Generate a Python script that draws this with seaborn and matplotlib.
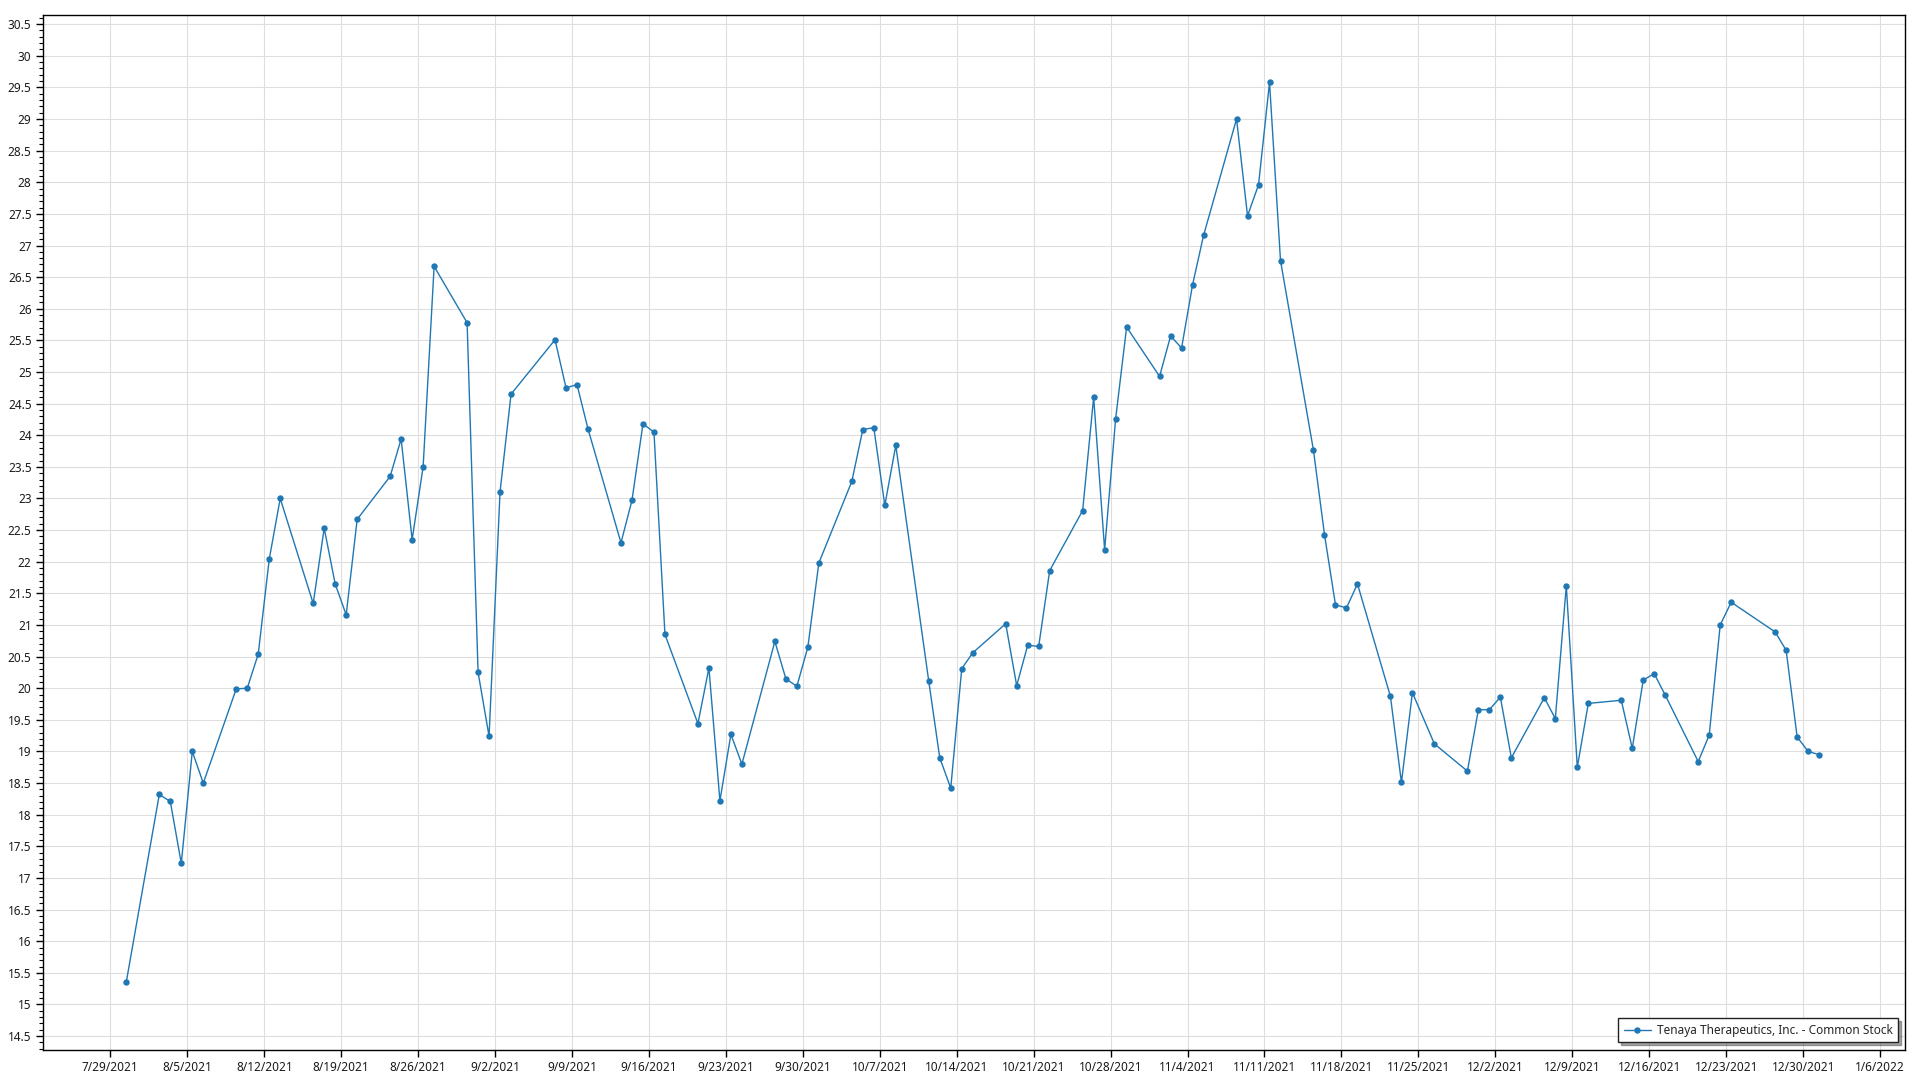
import numpy as np
import pandas as pd
import matplotlib
matplotlib.use("Agg")
import matplotlib.pyplot as plt
import matplotlib.dates as mdates
from matplotlib.ticker import MultipleLocator, FuncFormatter, FixedLocator
import seaborn as sns

# ---------------- data ----------------
series_name = "Tenaya Therapeutics, Inc. - Common Stock"

dates = [
    "2021-07-30",
    "2021-08-02", "2021-08-03", "2021-08-04", "2021-08-05", "2021-08-06",
    "2021-08-09", "2021-08-10", "2021-08-11", "2021-08-12", "2021-08-13",
    "2021-08-16", "2021-08-17", "2021-08-18", "2021-08-19", "2021-08-20",
    "2021-08-23", "2021-08-24", "2021-08-25", "2021-08-26", "2021-08-27",
    "2021-08-30", "2021-08-31", "2021-09-01", "2021-09-02", "2021-09-03",
    "2021-09-07", "2021-09-08", "2021-09-09", "2021-09-10",
    "2021-09-13", "2021-09-14", "2021-09-15", "2021-09-16", "2021-09-17",
    "2021-09-20", "2021-09-21", "2021-09-22", "2021-09-23", "2021-09-24",
    "2021-09-27", "2021-09-28", "2021-09-29", "2021-09-30", "2021-10-01",
    "2021-10-04", "2021-10-05", "2021-10-06", "2021-10-07", "2021-10-08",
    "2021-10-11", "2021-10-12", "2021-10-13", "2021-10-14", "2021-10-15",
    "2021-10-18", "2021-10-19", "2021-10-20", "2021-10-21", "2021-10-22",
    "2021-10-25", "2021-10-26", "2021-10-27", "2021-10-28", "2021-10-29",
    "2021-11-01", "2021-11-02", "2021-11-03", "2021-11-04", "2021-11-05",
    "2021-11-08", "2021-11-09", "2021-11-10", "2021-11-11", "2021-11-12",
    "2021-11-15", "2021-11-16", "2021-11-17", "2021-11-18", "2021-11-19",
    "2021-11-22", "2021-11-23", "2021-11-24", "2021-11-26",
    "2021-11-29", "2021-11-30", "2021-12-01", "2021-12-02", "2021-12-03",
    "2021-12-06", "2021-12-07", "2021-12-08", "2021-12-09", "2021-12-10",
    "2021-12-13", "2021-12-14", "2021-12-15", "2021-12-16", "2021-12-17",
    "2021-12-20", "2021-12-21", "2021-12-22", "2021-12-23",
    "2021-12-27", "2021-12-28", "2021-12-29", "2021-12-30", "2021-12-31",
]

prices = [
    15.36,
    18.32, 18.21, 17.23, 19.00, 18.50,
    19.99, 20.00, 20.54, 22.04, 23.00,
    21.34, 22.53, 21.65, 21.16, 22.67,
    23.35, 23.94, 22.35, 23.50, 26.67,
    25.78, 20.25, 19.24, 23.11, 24.65,
    25.51, 24.75, 24.80, 24.10,
    22.30, 22.97, 24.18, 24.05, 20.85,
    19.44, 20.32, 18.22, 19.27, 18.80,
    20.74, 20.15, 20.03, 20.65, 21.98,
    23.27, 24.09, 24.12, 22.89, 23.84,
    20.11, 18.90, 18.42, 20.31, 20.56,
    21.02, 20.04, 20.68, 20.66, 21.86,
    22.81, 24.60, 22.19, 24.26, 25.71,
    24.93, 25.57, 25.38, 26.38, 27.16,
    29.00, 27.47, 27.96, 29.58, 26.76,
    23.76, 22.43, 21.32, 21.27, 21.65,
    19.87, 18.51, 19.93, 19.12,
    18.69, 19.66, 19.66, 19.86, 18.90,
    19.85, 19.52, 21.62, 18.75, 19.76,
    19.81, 19.05, 20.13, 20.23, 19.89,
    18.84, 19.26, 21.00, 21.36,
    20.89, 20.60, 19.23, 19.00, 18.95,
]

# timestamp of each quote within its day
quote_time = "11:00"

# axis settings
x_tick_start = "2021-07-29"
x_tick_end = "2022-01-06"
y_ticks = [14.5 + 0.5 * i for i in range(33)]

# ---------------- figure ----------------
sns.set_style("white")
plt.rcParams["font.family"] = ["Noto Sans", "DejaVu Sans"]

df = pd.DataFrame({
    "Date": pd.to_datetime([d + " " + quote_time for d in dates]),
    "Price": prices,
})

fig = plt.figure(figsize=(19.2, 10.8), dpi=100)
fig.patch.set_facecolor("white")
ax = fig.add_axes([42.7 / 1920, 1 - 1050 / 1080, (1905 - 42.7) / 1920, (1050 - 15.3) / 1080])

line_color = "#1f77b4"
sns.lineplot(data=df, x="Date", y="Price", ax=ax, color=line_color,
             linewidth=1.0, marker="o", markersize=4.6, markeredgewidth=0,
             label=series_name)

# x axis
tick_dates = pd.date_range(x_tick_start, x_tick_end, freq="7D")
ax.xaxis.set_major_locator(FixedLocator(mdates.date2num(tick_dates)))
ax.xaxis.set_major_formatter(FuncFormatter(
    lambda v, p: (lambda d: f"{d.month}/{d.day}/{d.year}")(mdates.num2date(v))))
x0 = pd.Timestamp(x_tick_start) - pd.Timedelta(days=6.15)
x1 = pd.Timestamp(x_tick_end) + pd.Timedelta(days=2.27)
ax.set_xlim(mdates.date2num(x0), mdates.date2num(x1))

# y axis
ax.set_ylim(14.28, 30.64)
ax.yaxis.set_major_locator(FixedLocator(y_ticks))
ax.yaxis.set_minor_locator(MultipleLocator(0.1))
ax.yaxis.set_major_formatter(FuncFormatter(lambda v, p: f"{v:g}"))

ax.set_xlabel("")
ax.set_ylabel("")

ax.grid(True, which="major", color="#dedede", linewidth=0.8)
ax.set_axisbelow(True)

for s in ax.spines.values():
    s.set_color("black")
    s.set_linewidth(1.0)

ax.tick_params(axis="both", which="major", direction="out", length=5, width=1,
               color="black", labelsize=8.5, labelcolor="#1a1a1a", pad=3)
ax.tick_params(axis="y", which="minor", direction="out", length=3, width=0.8,
               color="black", left=True)
ax.tick_params(axis="x", which="minor", bottom=False)
ax.tick_params(axis="x", which="major", bottom=True)
ax.tick_params(axis="y", which="major", left=True)

leg = ax.legend(loc="lower right", bbox_to_anchor=(0.9962, 0.0077), borderaxespad=0,
                frameon=True, fancybox=False, shadow=True, framealpha=1,
                edgecolor="#222222", fontsize=8.5, handlelength=2.3,
                borderpad=0.45, handletextpad=0.5)
leg.get_frame().set_linewidth(1.0)

fig.savefig("out.png", dpi=100, facecolor="white")
